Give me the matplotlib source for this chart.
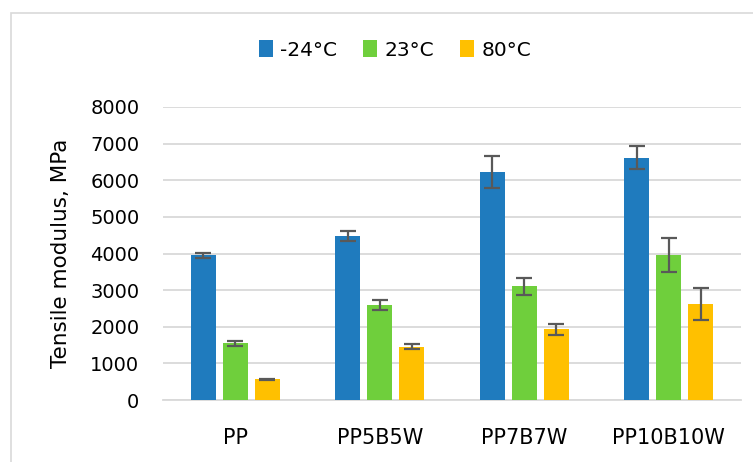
import matplotlib.pyplot as plt
import numpy as np
from matplotlib.patches import Rectangle

plt.rcParams["font.family"] = ["DejaVu Sans"]

samples = ["PP", "PP5B5W", "PP7B7W", "PP10B10W"]
temps = ["-24°C", "23°C", "80°C"]
modulus = {
    "-24°C": [3950, 4470, 6220, 6620],
    "23°C": [1550, 2600, 3100, 3960],
    "80°C": [560, 1460, 1930, 2620],
}
modulus_err = {
    "-24°C": [60, 140, 440, 310],
    "23°C": [70, 140, 230, 470],
    "80°C": [25, 70, 150, 440],
}
colors = ["#1F7BBE", "#6FCF3C", "#FFC000"]

fig = plt.figure(figsize=(7.53, 4.62), dpi=100)
ax = fig.add_axes([163 / 753, 1 - 400 / 462, 578 / 753, 293 / 462])

# light frame around the chart area
fig.patches.append(Rectangle((11 / 753, -0.1), 1.2, 1 - 13 / 462 + 0.1,
                             transform=fig.transFigure, fill=False,
                             edgecolor="#D9D9D9", linewidth=1.2))

x = np.arange(len(samples))
width = 0.172
step = 0.221
for i, (t, c) in enumerate(zip(temps, colors)):
    ax.bar(x + (i - 1) * step, modulus[t], width=width, color=c, label=t,
           yerr=modulus_err[t], capsize=5.5,
           error_kw=dict(ecolor="#595959", elinewidth=1.6, capthick=1.6),
           zorder=3)

ax.set_xlim(-0.5, len(samples) - 0.5)
ax.set_ylim(0, 8000)
ax.set_yticks(np.arange(0, 8001, 1000))
ax.set_xticks(x)
ax.set_xticklabels(samples, fontsize=15)
ax.tick_params(axis="y", labelsize=14)
ax.tick_params(axis="both", length=0, colors="black")
ax.tick_params(axis="y", pad=17)
ax.tick_params(axis="x", pad=20)
ax.yaxis.grid(True, color="#D9D9D9", linewidth=1.3, zorder=0)
ax.set_axisbelow(True)
for s in ["top", "right", "left"]:
    ax.spines[s].set_visible(False)
ax.spines["bottom"].set_color("#D9D9D9")
ax.spines["bottom"].set_linewidth(1.3)
ax.set_ylabel("Tensile modulus, MPa", fontsize=15.5)
ax.yaxis.set_label_coords(-92 / 578, 0.5)

fig.legend(loc="center", bbox_to_anchor=(395 / 753, 1 - 50 / 462), ncol=3,
           frameon=False, fontsize=14.5, handlelength=0.7, handleheight=0.9,
           handletextpad=0.35, columnspacing=1.3)

fig.savefig("out.png", dpi=100)
